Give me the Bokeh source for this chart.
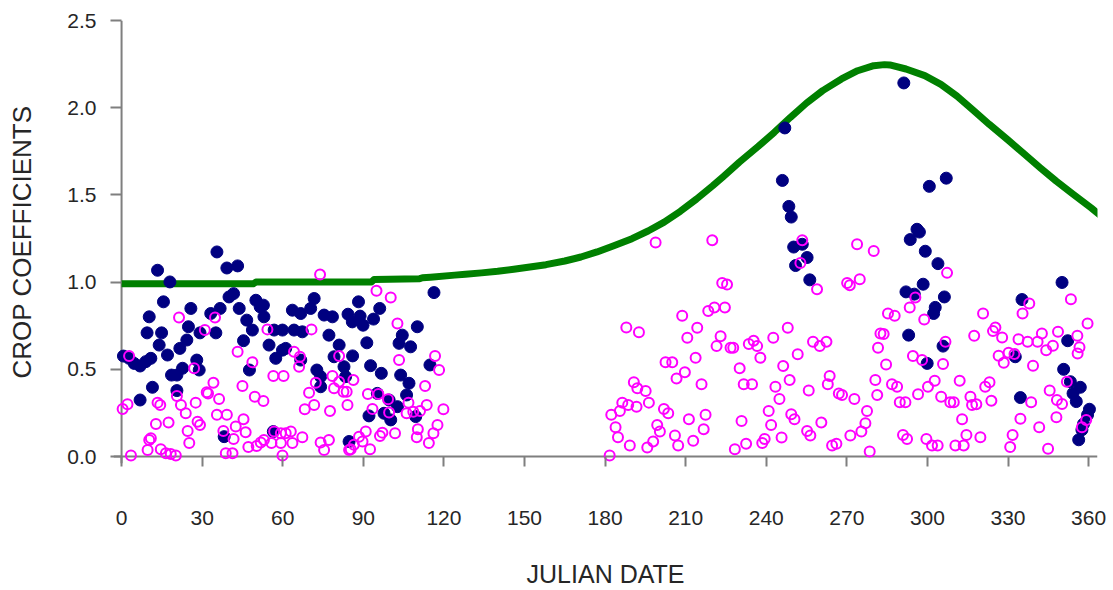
from bokeh.plotting import figure
from bokeh.models import Span, FixedTicker, PrintfTickFormatter
from bokeh.embed import file_html
from bokeh.resources import INLINE

# ---- data ----
curve_day = [0, 49, 50, 93, 94, 111, 112, 115, 124, 128, 134, 140, 146, 152, 158, 165, 171,
             177, 183, 190, 196, 202, 208, 214, 220, 224, 230, 237, 243, 249, 255, 261,
             268, 274, 280, 284, 286, 292, 299, 305, 311, 317, 323, 330, 336, 342, 348,
             354, 361, 365]
curve_kc = [0.99, 0.99, 1.00, 1.00, 1.015, 1.02, 1.025, 1.028, 1.04, 1.045, 1.053, 1.062,
            1.074, 1.087, 1.10, 1.121, 1.144, 1.173, 1.207, 1.249, 1.293, 1.344, 1.406,
            1.476, 1.552, 1.605, 1.688, 1.778, 1.859, 1.945, 2.027, 2.098, 2.165, 2.212,
            2.241, 2.247, 2.245, 2.222, 2.184, 2.134, 2.066, 1.986, 1.905, 1.815, 1.735,
            1.655, 1.578, 1.507, 1.425, 1.375]

navy_day = [35.5, 13.4, 39.2, 43.2, 18.0, 15.6, 40.0, 41.7, 10.3, 25.8, 33.2, 36.7, 24.9, 9.5,
            14.9, 29.2, 35.1, 14.0, 24.3, 21.7, 17.1, 0.7, 2.8, 4.7, 6.9, 9.0, 10.9, 22.7,
            18.6, 20.6, 28.0, 28.9, 11.5, 6.9, 20.6, 45.4, 43.8, 46.6, 48.7, 47.6, 50.0,
            52.8, 51.6, 53.0, 54.9, 57.4, 59.9, 61.1, 56.8, 59.9, 64.2, 67.3, 63.6, 66.7,
            70.4, 71.7, 75.4, 78.5, 77.2, 81.0, 79.1, 72.7, 74.1, 74.1, 66.7, 56.5, 38.2,
            83.4, 82.8, 84.7, 86.0,
            116.3, 88.2, 96.1, 84.3, 88.8, 85.9, 89.9, 93.8, 110.1, 104.5, 103.3, 107.6,
            91.3, 92.7, 96.7, 103.9, 107.0, 114.8, 95.2, 99.6, 102.7, 97.7, 100.2, 92.1,
            106.1, 109.5,
            246.9, 246.0, 248.4, 249.3, 250.2, 253.4, 255.2, 250.9, 256.2, 291.2, 300.7,
            307.0, 296.1, 297.0, 293.6, 299.2, 303.9, 298.4, 292.0, 295.1, 306.3, 302.9,
            302.3, 293.0, 305.8, 299.9, 350.1, 335.2, 352.2, 332.7, 350.7, 353.2, 356.9,
            354.2, 355.4, 334.6, 360.3, 359.6, 358.1, 357.5, 356.3]
navy_kc = [1.173, 1.068, 1.081, 1.093, 1.001, 0.887, 0.915, 0.934, 0.801, 0.849, 0.82, 0.849,
           0.744, 0.709, 0.709, 0.709, 0.709, 0.639, 0.668, 0.62, 0.582, 0.576, 0.563, 0.534,
           0.519, 0.544, 0.563, 0.506, 0.467, 0.467, 0.553, 0.496, 0.397, 0.324, 0.378,
           0.664, 0.849, 0.782, 0.725, 0.496, 0.896, 0.868, 0.858, 0.801, 0.639, 0.563,
           0.61, 0.62, 0.725, 0.725, 0.725, 0.715, 0.839, 0.82, 0.849, 0.906, 0.811, 0.801,
           0.696, 0.639, 0.572, 0.496, 0.458, 0.40, 0.553, 0.143, 0.114, 0.458, 0.515,
           0.086, 0.577,
           0.94, 0.887, 0.849, 0.816, 0.805, 0.772, 0.753, 0.788, 0.744, 0.696, 0.649,
           0.629, 0.652, 0.521, 0.477, 0.467, 0.42, 0.525, 0.362, 0.324, 0.286, 0.248,
           0.21, 0.233, 0.353, 0.229,
           1.884, 1.583, 1.434, 1.373, 1.201, 1.217, 1.141, 1.095, 1.013, 2.142, 1.549,
           1.596, 1.303, 1.287, 1.244, 1.177, 1.106, 0.988, 0.944, 0.931, 0.915, 0.855,
           0.82, 0.696, 0.633, 0.534, 0.998, 0.9, 0.664, 0.572, 0.5, 0.429, 0.397, 0.362,
           0.315, 0.338, 0.271, 0.239, 0.187, 0.153, 0.096]

pink_day = [2.8, 0.4, 2.2, 3.5, 9.7, 10.9, 10.3, 12.8, 13.4, 14.4, 14.6, 16.5, 18.3, 20.2,
            17.5, 20.6, 22.1, 23.9, 21.4, 25.2, 24.6, 27.0, 27.6, 28.3, 29.2, 31.0, 31.7,
            32.2, 34.2, 34.8, 36.3, 35.5, 39.2, 37.9, 38.8, 41.3, 41.7, 42.5, 45.4, 46.2,
            43.2, 45.0, 48.7, 49.6, 52.8, 47.2, 50.3, 51.8, 53.0, 54.3, 56.5, 60.3, 56.8,
            59.3, 61.1, 63.0, 55.8, 59.3, 63.6, 59.9, 67.3, 64.2, 66.4, 66.1, 70.7, 69.8,
            71.7, 68.2, 72.3, 73.9, 77.6, 74.1, 75.4, 77.2, 78.5, 79.1, 81.0, 81.0, 82.6,
            83.8, 84.1, 84.7,
            94.9, 100.2, 102.7, 103.3, 116.7, 118.2, 86.3, 113.0, 91.7, 95.6, 99.2, 93.4,
            99.6, 106.8, 106.1, 108.6, 111.1, 113.6, 119.8, 117.6, 116.1, 110.3, 109.9,
            114.4, 101.8, 90.9, 97.1, 96.2, 88.4, 89.7, 86.5, 85.3, 92.5,
            187.9, 192.6, 190.7, 192.0, 186.4, 188.6, 191.7, 185.5, 182.3, 183.9, 184.8,
            189.2, 181.7,
            198.8, 219.9, 223.6, 225.4, 208.7, 218.4, 220.7, 224.6, 214.3, 210.6, 223.0,
            221.5, 226.7, 227.7, 233.5, 235.3, 236.6, 242.6, 248.0, 257.4, 259.9, 262.4,
            251.7, 237.8, 213.7, 202.5, 205.0, 209.7, 206.6, 230.1, 246.3, 263.6, 262.9,
            195.1, 215.9, 231.6, 234.7, 243.4, 248.7, 255.8, 267.0, 268.2, 272.8, 280.6,
            281.3, 244.9, 196.3, 201.9, 203.5, 199.4, 200.4, 195.7, 197.9, 206.0, 207.2,
            211.2, 212.8, 216.7, 217.4, 230.8, 228.3, 232.5, 238.5, 239.4, 240.9, 241.8,
            245.7, 249.3, 250.5, 255.2, 256.4, 260.5, 264.5, 266.1, 271.3, 275.4, 276.9,
            277.5, 278.5, 281.6, 282.5, 273.8, 280.0, 270.1, 271.1, 274.8, 258.9, 253.4,
            252.7,
            307.3, 295.5,
            293.4, 298.8, 285.3, 287.8, 283.7, 284.6, 294.6, 298.0, 306.7, 305.8, 286.8,
            288.7, 289.7, 291.8, 296.5, 300.2, 302.7, 290.9, 292.4, 299.6, 301.7, 303.8,
            305.1, 308.5, 309.8, 312.0, 312.9, 314.5, 310.4, 313.5, 316.0, 316.6, 318.2,
            319.7, 321.5, 323.1, 323.8, 317.4, 320.7, 324.4, 325.3, 327.8, 326.5, 328.4,
            330.2, 332.4, 333.9, 337.3, 341.0, 342.6, 344.2, 346.7, 348.6, 335.4, 337.9,
            353.4, 359.6, 355.8, 356.6, 355.9, 339.3, 345.5, 348.2, 350.1, 351.9, 338.6,
            334.6, 331.7, 330.8, 341.6, 344.9, 348.0, 359.1, 357.5]
pink_kc = [0.576, 0.273, 0.30, 0.006, 0.038, 0.105, 0.095, 0.187, 0.309, 0.296, 0.042, 0.019,
           0.014, 0.006, 0.195, 0.347, 0.296, 0.248, 0.797, 0.077, 0.147, 0.506, 0.309,
           0.20, 0.181, 0.725, 0.368, 0.362, 0.423, 0.797, 0.33, 0.239, 0.239, 0.147,
           0.019, 0.019, 0.101, 0.172, 0.214, 0.139, 0.601, 0.404, 0.54, 0.343, 0.319,
           0.054, 0.061, 0.08, 0.095, 0.729, 0.462, 0.462, 0.143, 0.134, 0.134, 0.143,
           0.077, 0.077, 0.077, 0.006, 0.111, 0.601, 0.572, 0.515, 0.729, 0.366, 0.296,
           0.271, 0.423, 1.043, 0.261, 0.08, 0.038, 0.095, 0.462, 0.391, 0.429, 0.576,
           0.372, 0.372, 0.296, 0.038,
           0.95, 0.912, 0.763, 0.553, 0.576, 0.496, 0.439, 0.404, 0.359, 0.359, 0.328,
           0.273, 0.252, 0.309, 0.248, 0.257, 0.261, 0.296, 0.271, 0.181, 0.134, 0.157,
           0.111, 0.077, 0.134, 0.143, 0.137, 0.118, 0.114, 0.086, 0.067, 0.042, 0.042,
           0.74, 0.712, 0.426, 0.391, 0.309, 0.296, 0.286, 0.261, 0.239, 0.168, 0.111,
           0.063, 0.006,
           1.227, 1.24, 0.995, 0.986, 0.807, 0.835, 0.855, 0.855, 0.738, 0.681, 0.69,
           0.633, 0.624, 0.624, 0.645, 0.664, 0.633, 0.681, 0.738, 0.658, 0.633, 0.658,
           0.586, 0.566, 0.566, 0.54, 0.54, 0.483, 0.448, 0.506, 0.519, 0.462, 0.414,
           0.376, 0.414, 0.414, 0.414, 0.40, 0.439, 0.378, 0.362, 0.353, 0.33, 0.439,
           0.353, 0.33, 0.309, 0.273, 0.248, 0.181, 0.143, 0.052, 0.086, 0.12, 0.063,
           0.214, 0.09, 0.157, 0.239, 0.204, 0.042, 0.073, 0.077, 0.101, 0.261, 0.181,
           0.109, 0.243, 0.214, 0.147, 0.12, 0.195, 0.063, 0.073, 0.12, 0.143, 0.191,
           0.261, 0.029, 0.624, 0.706, 1.217, 1.179, 0.995, 0.982, 1.017, 0.959, 1.24,
           1.11,
           1.053, 0.912,
           0.855, 0.786, 0.82, 0.807, 0.702, 0.528, 0.576, 0.553, 0.658, 0.53, 0.414,
           0.40, 0.311, 0.311, 0.357, 0.40, 0.435, 0.124, 0.101, 0.101, 0.063, 0.063,
           0.343, 0.311, 0.311, 0.435, 0.214, 0.124, 0.063, 0.063, 0.343, 0.296, 0.30,
           0.111, 0.40, 0.426, 0.32, 0.692, 0.82, 0.719, 0.74, 0.683, 0.578, 0.538,
           0.595, 0.588, 0.672, 0.658, 0.658, 0.706, 0.61, 0.635, 0.715, 0.82, 0.877,
           0.902, 0.763, 0.692, 0.626, 0.591, 0.521, 0.378, 0.324, 0.301, 0.429, 0.311,
           0.216, 0.124, 0.054, 0.168, 0.044, 0.225, 0.21, 0.168]

x_ticks = [0, 30, 60, 90, 120, 150, 180, 210, 240, 270, 300, 330, 360]
y_ticks = [0.0, 0.5, 1.0, 1.5, 2.0, 2.5]

AXIS_GRAY = "#7f7f7f"
TEXT = "#262626"

p = figure(width=1113, height=590, x_range=(-3, 363.3), y_range=(-0.04, 2.5),
           output_backend="svg", toolbar_location=None,
           min_border_left=113, min_border_right=16, min_border_top=20,
           min_border_bottom=126)
p.outline_line_color = None
p.xgrid.visible = False
p.ygrid.visible = False
p.background_fill_color = "white"

# axis lines drawn at the data zero lines
p.add_layout(Span(location=0, dimension="height", line_color=AXIS_GRAY,
                  line_width=2, level="underlay"))
p.add_layout(Span(location=0, dimension="width", line_color=AXIS_GRAY,
                  line_width=2, level="underlay"))

for ax in (p.xaxis[0], p.yaxis[0]):
    ax.axis_line_color = None
    ax.minor_tick_line_color = None
    ax.major_tick_line_color = AXIS_GRAY
    ax.major_tick_line_width = 2
    ax.major_label_text_font = "Liberation Sans"
    ax.major_label_text_font_size = "21px"
    ax.major_label_text_color = TEXT
    ax.axis_label_text_font = "Liberation Sans"
    ax.axis_label_text_font_style = "normal"
    ax.axis_label_text_color = TEXT

p.xaxis.ticker = FixedTicker(ticks=x_ticks)
p.xaxis.major_tick_in = 7
p.xaxis.major_tick_out = 3
p.xaxis.major_label_standoff = 44
p.xaxis.axis_label = "JULIAN DATE"
p.xaxis.axis_label_text_font_size = "25px"
p.xaxis.axis_label_standoff = 32

p.yaxis.ticker = FixedTicker(ticks=y_ticks)
p.yaxis.formatter = PrintfTickFormatter(format="%.1f")
p.yaxis.major_tick_in = 8
p.yaxis.major_tick_out = 3
p.yaxis.major_label_standoff = 14
p.yaxis.axis_label = "CROP COEFFICIENTS"
p.yaxis.axis_label_text_font_size = "26px"
p.yaxis.axis_label_standoff = 27

p.line(curve_day, curve_kc, line_color="#008000", line_width=7, line_join="round")
p.scatter(navy_day, navy_kc, size=12, fill_color="#000080", line_color="#000080",
          line_width=1)
p.scatter(pink_day, pink_kc, size=10, fill_color=None, line_color="#ff00ff",
          line_width=2)

open("out.html", "w").write(file_html(p, INLINE))
